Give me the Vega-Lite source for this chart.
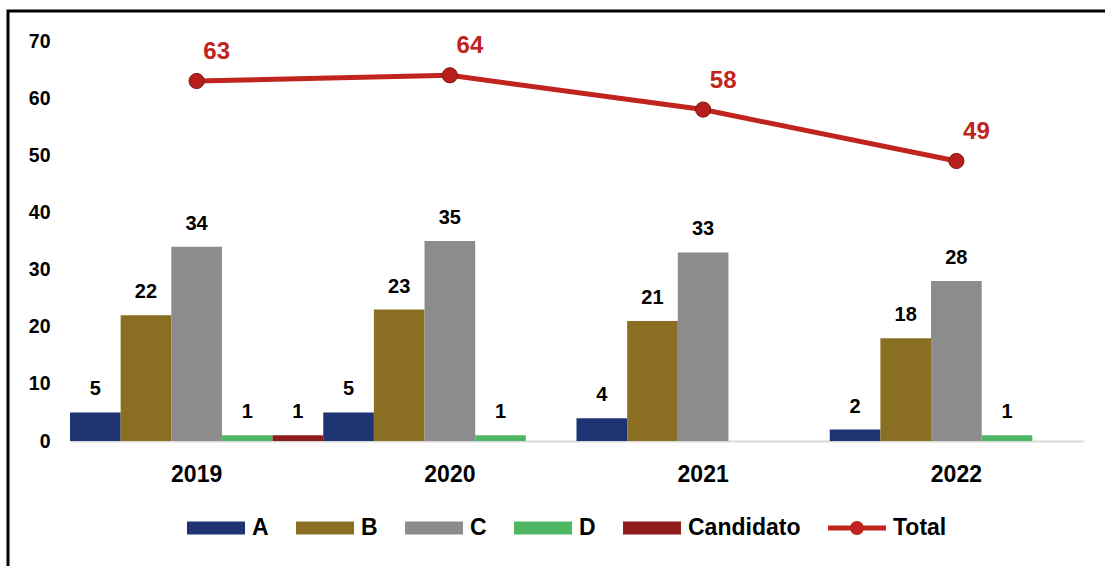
{
  "$schema": "https://vega.github.io/schema/vega-lite/v6.json",
  "width": 1102,
  "height": 560,
  "autosize": {"type": "none"},
  "padding": {"left": 8, "top": 11, "right": -5, "bottom": -5},
  "background": "#ffffff",
  "view": {"stroke": "#000000", "strokeWidth": 3},
  "datasets": {
    "bars": [
      {"year": "2019", "series": "A", "value": 5},
      {"year": "2019", "series": "B", "value": 22},
      {"year": "2019", "series": "C", "value": 34},
      {"year": "2019", "series": "D", "value": 1},
      {"year": "2019", "series": "Candidato", "value": 1},
      {"year": "2020", "series": "A", "value": 5},
      {"year": "2020", "series": "B", "value": 23},
      {"year": "2020", "series": "C", "value": 35},
      {"year": "2020", "series": "D", "value": 1},
      {"year": "2021", "series": "A", "value": 4},
      {"year": "2021", "series": "B", "value": 21},
      {"year": "2021", "series": "C", "value": 33},
      {"year": "2022", "series": "A", "value": 2},
      {"year": "2022", "series": "B", "value": 18},
      {"year": "2022", "series": "C", "value": 28},
      {"year": "2022", "series": "D", "value": 1}
    ],
    "total": [
      {"year": "2019", "value": 63},
      {"year": "2020", "value": 64},
      {"year": "2021", "value": 58},
      {"year": "2022", "value": 49}
    ]
  },
  "layer": [
    {
      "data": {"name": "bars"},
      "mark": {"type": "bar"},
      "encoding": {
        "x": {
          "field": "year", "type": "nominal",
          "scale": {"domain": ["2019", "2020", "2021", "2022"], "range": [62, 1075], "paddingInner": 0, "paddingOuter": 0},
          "axis": {"orient": "bottom", "offset": -130, "title": null, "domainColor": "#d9d9d9", "domainWidth": 2, "ticks": false, "tickSize": 0, "labelPadding": 22, "labelFont": "Liberation Sans", "labelFontWeight": "bold", "labelFontSize": 23, "labelColor": "#000000", "labelAngle": 0, "grid": false}
        },
        "xOffset": {
          "field": "series", "type": "nominal",
          "scale": {"domain": ["A", "B", "C", "D", "Candidato"], "paddingInner": 0, "paddingOuter": 0}
        },
        "y": {
          "field": "value", "type": "quantitative",
          "scale": {"domain": [-22.75, 75.25], "nice": false, "zero": false},
          "axis": {"orient": "left", "offset": -42, "title": null, "values": [0, 10, 20, 30, 40, 50, 60, 70], "domain": false, "ticks": false, "tickSize": 0, "labelPadding": 0, "grid": false, "labelFont": "Liberation Sans", "labelFontWeight": "bold", "labelFontSize": 19.5, "labelColor": "#000000"}
        },
        "y2": {"datum": 0},
        "color": {
          "field": "series", "type": "nominal",
          "scale": {"domain": ["A", "B", "C", "D", "Candidato", "Total"], "range": ["#1d3372", "#8a6e22", "#8c8c8c", "#4fb865", "#8e1c1c", "#c0241c"]},
          "legend": {
            "orient": "none", "legendX": 179, "legendY": 488, "direction": "horizontal", "columns": 6, "title": null, "padding": 0,
            "labelFont": "Liberation Sans", "labelFontWeight": "bold", "labelFontSize": 23, "labelColor": "#000000", "labelOffset": 7, "columnPadding": 27,
            "symbolSize": 3364, "symbolStrokeWidth": 0, "symbolOpacity": 1,
            "symbolType": "M-1,-0.224L1,-0.224L1,0.224L-1,0.224Z",
            "encode": {
              "symbols": {
                "update": {
                  "shape": {"signal": "datum.value === 'Total' ? 'M-1,-0.086L1,-0.086L1,0.086L-1,0.086Z M0.24,0A0.24,0.24 0 1 1 -0.24,0A0.24,0.24 0 1 1 0.24,0Z' : 'M-1,-0.224L1,-0.224L1,0.224L-1,0.224Z'"}
                }
              }
            }
          }
        }
      }
    },
    {
      "data": {"name": "bars"},
      "mark": {"type": "text", "font": "Liberation Sans", "fontWeight": "bold", "fontSize": 20, "baseline": "alphabetic", "dy": -17, "color": "#000000"},
      "encoding": {
        "x": {"field": "year", "type": "nominal"},
        "xOffset": {"field": "series", "type": "nominal"},
        "y": {"field": "value", "type": "quantitative"},
        "text": {"field": "value", "type": "quantitative"}
      }
    },
    {
      "data": {"name": "total"},
      "mark": {"type": "line", "color": "#c0241c", "strokeWidth": 5},
      "encoding": {
        "x": {"field": "year", "type": "nominal"},
        "y": {"field": "value", "type": "quantitative"}
      }
    },
    {
      "data": {"name": "total"},
      "mark": {"type": "point", "filled": true, "size": 230, "color": "#b81f1c", "opacity": 1, "stroke": "#7a1210", "strokeWidth": 1},
      "encoding": {
        "x": {"field": "year", "type": "nominal"},
        "y": {"field": "value", "type": "quantitative"}
      }
    },
    {
      "data": {"name": "total"},
      "mark": {"type": "text", "font": "Liberation Sans", "fontWeight": "bold", "fontSize": 24, "align": "center", "baseline": "middle", "dx": 20, "dy": -29, "color": "#c0241c"},
      "encoding": {
        "x": {"field": "year", "type": "nominal"},
        "y": {"field": "value", "type": "quantitative"},
        "text": {"field": "value", "type": "quantitative"}
      }
    }
  ]
}
